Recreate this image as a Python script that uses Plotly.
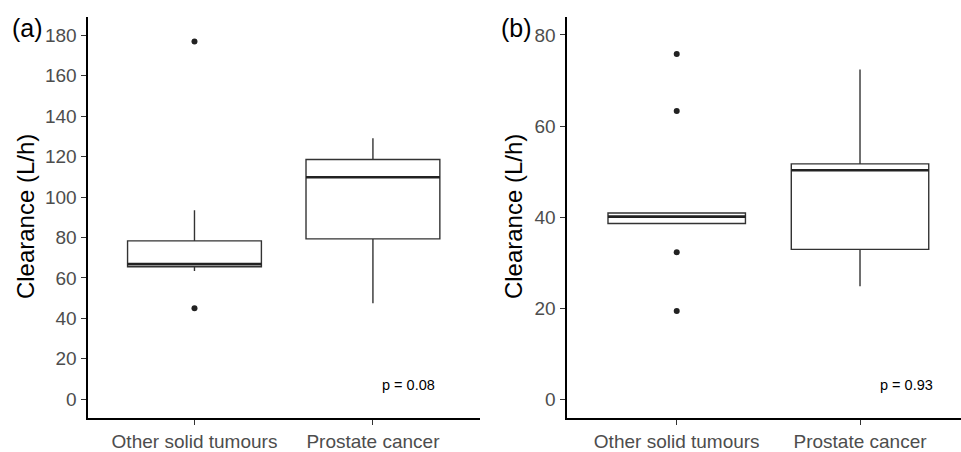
import plotly.graph_objects as go

categories = ["Other solid tumours", "Prostate cancer"]

# Panel (a) clearance statistics
a_q1 = [65.5, 79.3]
a_median = [66.8, 109.8]
a_q3 = [78.3, 118.6]
a_lower = [63.4, 47.4]
a_upper = [93.4, 129.1]
a_out_x = [0, 0]
a_out_y = [177.0, 45.0]

# Panel (b) clearance statistics
b_q1 = [38.6, 32.9]
b_median = [40.1, 50.3]
b_q3 = [40.9, 51.7]
b_lower = [38.5, 24.8]
b_upper = [41.0, 72.4]
b_out_x = [0, 0, 0, 0]
b_out_y = [75.8, 63.3, 32.3, 19.4]

a_ticks = [0, 20, 40, 60, 80, 100, 120, 140, 160, 180]
b_ticks = [0, 20, 40, 60, 80]

p_values = ["p = 0.08", "p = 0.93"]

BOX_W = 0.75
LINE = "#333333"
FONT = "Liberation Sans, Arial, sans-serif"

fig = go.Figure()

def add_panel(xa, ya, q1, med, q3, lo, hi, ox, oy):
    xs = list(range(len(categories)))
    fig.add_trace(go.Box(
        x=xs, q1=q1, median=med, q3=q3, lowerfence=lo, upperfence=hi,
        width=BOX_W, whiskerwidth=0, boxpoints=False,
        fillcolor="white", line=dict(color=LINE, width=1.4),
        xaxis=xa, yaxis=ya, showlegend=False, hoverinfo="skip"))
    for i, m in enumerate(med):
        fig.add_trace(go.Scatter(
            x=[i - BOX_W / 2, i + BOX_W / 2], y=[m, m], mode="lines",
            line=dict(color="#222222", width=2.6), xaxis=xa, yaxis=ya,
            showlegend=False, hoverinfo="skip"))
    fig.add_trace(go.Scatter(
        x=ox, y=oy, mode="markers",
        marker=dict(color="#222222", size=6), xaxis=xa, yaxis=ya,
        showlegend=False, hoverinfo="skip"))

add_panel("x", "y", a_q1, a_median, a_q3, a_lower, a_upper, a_out_x, a_out_y)
add_panel("x2", "y2", b_q1, b_median, b_q3, b_lower, b_upper, b_out_x, b_out_y)

W, H = 961, 452
ydom = [(H - 423.5) / H, (H - 17) / H]

axis_common = dict(
    showgrid=False, zeroline=False, showline=True, linecolor="black",
    linewidth=1.8, ticks="outside", ticklen=5, tickwidth=1.3,
    tickcolor="#333333", tickfont=dict(family=FONT, size=19, color="#4D4D4D"),
)

fig.update_layout(
    width=W, height=H,
    margin=dict(l=0, r=0, t=0, b=0),
    paper_bgcolor="white", plot_bgcolor="white",
    font=dict(family=FONT),
    xaxis=dict(domain=[88.3 / W, 480 / W], range=[-0.595, 1.6],
               tickvals=[0, 1], ticktext=categories, anchor="y", **axis_common),
    yaxis=dict(domain=ydom, range=[-9.3, 189.2], tickvals=a_ticks,
               anchor="x", ticklabelstandoff=1, **axis_common),
    xaxis2=dict(domain=[567.3 / W, 1.0], range=[-0.597, 1.551],
                tickvals=[0, 1], ticktext=categories, anchor="y2", **axis_common),
    yaxis2=dict(domain=ydom, range=[-4.1, 84.0], tickvals=b_ticks,
                anchor="x2", ticklabelstandoff=1, **axis_common),
)

ann = [
    dict(text="Clearance (L/h)", x=25 / W, y=(H - 220) / H, textangle=-90),
    dict(text="Clearance (L/h)", x=513 / W, y=(H - 220) / H, textangle=-90),
]
for a in ann:
    fig.add_annotation(xref="paper", yref="paper", showarrow=False,
                       xanchor="center", yanchor="middle",
                       font=dict(family=FONT, size=24, color="black"), **a)

fig.add_annotation(xref="paper", yref="paper", x=27 / W, y=(H - 28) / H,
                   text="(a)", showarrow=False, xanchor="center", yanchor="middle",
                   font=dict(family=FONT, size=25, color="black"))
fig.add_annotation(xref="paper", yref="paper", x=516 / W, y=(H - 28) / H,
                   text="(b)", showarrow=False, xanchor="center", yanchor="middle",
                   font=dict(family=FONT, size=25, color="black"))

fig.add_annotation(xref="x", yref="y", x=1.2, y=7.0, text=p_values[0],
                   showarrow=False, xanchor="center", yanchor="middle",
                   font=dict(family=FONT, size=14.5, color="black"))
fig.add_annotation(xref="x2", yref="y2", x=1.252, y=3.1, text=p_values[1],
                   showarrow=False, xanchor="center", yanchor="middle",
                   font=dict(family=FONT, size=14.5, color="black"))

fig.write_html("out.html", config={"displayModeBar": False},
               post_script="document.body.style.margin='0';document.body.style.overflow='hidden';")
